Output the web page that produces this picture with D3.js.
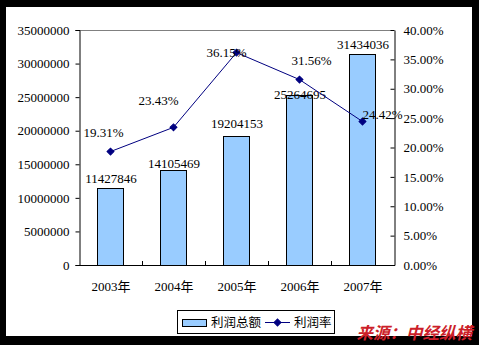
<!DOCTYPE html>
<html>
<head>
<meta charset="utf-8">
<script src="https://cdn.jsdelivr.net/npm/d3@7/dist/d3.min.js"></script>
<style>
  html, body { margin: 0; padding: 0; background: #000; }
  svg { display: block; }
</style>
</head>
<body>
<svg id="chart" width="479" height="345"></svg>
<script>
// Profit totals and profit margin by year
const years = ["2003年", "2004年", "2005年", "2006年", "2007年"];
const profitTotal = [11427846, 14105469, 19204153, 25264695, 31434036];
const profitRate = [0.1931, 0.2343, 0.3615, 0.3156, 0.2442];
const leftTicks = [0, 5000000, 10000000, 15000000, 20000000, 25000000, 30000000, 35000000];
const rightTicks = [0, 0.05, 0.10, 0.15, 0.20, 0.25, 0.30, 0.35, 0.40];
const seriesNames = ["利润总额", "利润率"];
const sourceText = "来源：中经纵横";

const W = 479, H = 345;
const plot = { left: 79, right: 394, top: 30, bottom: 265 };
const numFont = "'Liberation Serif', 'Noto Sans CJK SC', serif";
const cjkFont = "'Noto Sans CJK SC', sans-serif";

const svg = d3.select("#chart");

// frame
svg.append("rect").attr("width", W).attr("height", H).attr("fill", "#000");
svg.append("rect").attr("x", 6).attr("y", 7).attr("width", 466).attr("height", 329).attr("fill", "#fff");

const x = d3.scaleBand()
  .domain(years)
  .range([plot.left, plot.right])
  .paddingInner(0.587)
  .paddingOuter(0.2935);

const yL = d3.scaleLinear().domain([0, 35000000]).range([plot.bottom, plot.top]);
const yR = d3.scaleLinear().domain([0, 0.4]).range([plot.bottom, plot.top]);

// plot area top border
svg.append("line")
  .attr("x1", plot.left).attr("x2", plot.right)
  .attr("y1", plot.top + 0.5).attr("y2", plot.top + 0.5)
  .attr("stroke", "#808080");

// bars
svg.append("g").selectAll("rect")
  .data(profitTotal)
  .join("rect")
  .attr("x", (d, i) => Math.round(x(years[i])) + 0.5)
  .attr("y", d => Math.round(yL(d)) + 0.5)
  .attr("width", Math.round(x.bandwidth()))
  .attr("height", d => plot.bottom - Math.round(yL(d)))
  .attr("fill", "#99ccff")
  .attr("stroke", "#000")
  .attr("stroke-width", 1);

// left axis
const axL = svg.append("g")
  .attr("transform", `translate(${plot.left + 0.5},0)`)
  .call(d3.axisLeft(yL).tickValues(leftTicks).tickSize(4).tickPadding(6).tickFormat(d3.format("d")));
axL.select(".domain").attr("stroke", "#000");
axL.selectAll("text").attr("font-family", numFont).attr("font-size", 13).attr("fill", "#000");

// right axis (ticks point into the plot)
const axR = svg.append("g")
  .attr("transform", `translate(${plot.right + 0.5},0)`)
  .call(d3.axisRight(yR).tickValues(rightTicks).tickSizeInner(-4).tickSizeOuter(0).tickPadding(9).tickFormat(d3.format(".2%")));
axR.select(".domain").attr("stroke", "#000");
axR.selectAll("text").attr("font-family", numFont).attr("font-size", 13).attr("fill", "#000");

// bottom axis line and category dividers
svg.append("line")
  .attr("x1", plot.left).attr("x2", plot.right + 1)
  .attr("y1", plot.bottom + 0.5).attr("y2", plot.bottom + 0.5)
  .attr("stroke", "#000");
svg.append("g").selectAll("line")
  .data(years.slice(1))
  .join("line")
  .attr("x1", d => Math.round(x(d) - x.step() * x.paddingInner() / 2) + 0.5)
  .attr("x2", d => Math.round(x(d) - x.step() * x.paddingInner() / 2) + 0.5)
  .attr("y1", plot.bottom)
  .attr("y2", plot.bottom - 4)
  .attr("stroke", "#000");

// category labels
svg.append("g").selectAll("text")
  .data(years)
  .join("text")
  .attr("x", d => x(d) + x.bandwidth() / 2 + 0.5)
  .attr("y", 291)
  .attr("text-anchor", "middle")
  .attr("font-family", numFont)
  .attr("font-size", 13)
  .text(d => d);

// bar value labels (individually nudged around each bar top)
const barLabelDy = [-10, -7, -13, -1, -9];
svg.append("g").selectAll("text")
  .data(profitTotal)
  .join("text")
  .attr("x", (d, i) => x(years[i]) + x.bandwidth() / 2 + 0.5)
  .attr("y", (d, i) => yL(d) + barLabelDy[i])
  .attr("dy", "0.35em")
  .attr("text-anchor", "middle")
  .attr("font-family", numFont)
  .attr("font-size", 13)
  .text(d => d);

// margin line
const cx = i => x(years[i]) + x.bandwidth() / 2;
const line = d3.line().x((d, i) => cx(i)).y(d => yR(d));
svg.append("path")
  .datum(profitRate)
  .attr("d", line)
  .attr("fill", "none")
  .attr("stroke", "#000080")
  .attr("stroke-width", 1);

const diamond = d3.symbol().type(d3.symbolSquare).size(24);
svg.append("g").selectAll("path")
  .data(profitRate)
  .join("path")
  .attr("d", diamond)
  .attr("transform", (d, i) => `translate(${cx(i)},${yR(d)}) rotate(45)`)
  .attr("fill", "#000080")
  .attr("stroke", "#000080");

// margin labels (individually nudged around each point)
const rateLabelNudge = [[-7, -19], [-15, -27], [-10, 0], [12, -19], [20, -7]];
svg.append("g").selectAll("text")
  .data(profitRate)
  .join("text")
  .attr("x", (d, i) => cx(i) + rateLabelNudge[i][0])
  .attr("y", (d, i) => yR(d) + rateLabelNudge[i][1])
  .attr("dy", "0.35em")
  .attr("text-anchor", "middle")
  .attr("font-family", numFont)
  .attr("font-size", 13)
  .text(d => d3.format(".2%")(d));

// legend
const lg = svg.append("g");
lg.append("rect").attr("x", 177.5).attr("y", 310.5).attr("width", 157).attr("height", 23)
  .attr("fill", "#fff").attr("stroke", "#000");
lg.append("rect").attr("x", 182.5).attr("y", 319.5).attr("width", 24).attr("height", 7)
  .attr("fill", "#99ccff").attr("stroke", "#000");
lg.append("text").attr("x", 211).attr("y", 322.5).attr("dy", "0.36em")
  .attr("font-family", cjkFont).attr("font-size", 12.5).text(seriesNames[0]);
lg.append("line").attr("x1", 265).attr("x2", 290).attr("y1", 322.5).attr("y2", 322.5)
  .attr("stroke", "#000080");
lg.append("path").attr("d", diamond).attr("transform", "translate(277.5,322.5) rotate(45)")
  .attr("fill", "#000080").attr("stroke", "#000080");
lg.append("text").attr("x", 294).attr("y", 322.5).attr("dy", "0.36em")
  .attr("font-family", cjkFont).attr("font-size", 12.5).text(seriesNames[1]);

// source note
svg.append("text")
  .attr("x", 472).attr("y", 339)
  .attr("text-anchor", "end")
  .attr("font-family", cjkFont)
  .attr("font-weight", "bold")
  .attr("font-style", "italic")
  .attr("font-size", 16.5)
  .attr("fill", "#cc1f2a")
  .text(sourceText);
</script>
</body>
</html>
